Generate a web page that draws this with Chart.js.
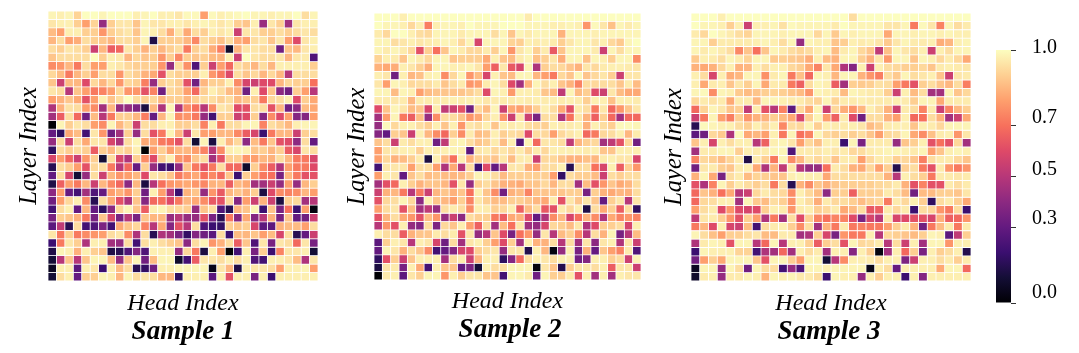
<!DOCTYPE html>
<html lang="en">

<head>
    <meta charset="UTF-8">
    <title>Attention heatmaps</title>
    <script src="https://cdn.jsdelivr.net/npm/chart.js"></script>
    <style>
        body { margin: 0; background: #fff; }
        canvas { position: absolute; }
    </style>
</head>

<body>

    <canvas id="panel1"></canvas>
    <canvas id="panel2"></canvas>
    <canvas id="panel3"></canvas>
    <canvas id="colorbar"></canvas>

    <script>

        const headLabels = ["1","2","3","4","5","6","7","8","9","10","11","12","13","14","15","16","17","18","19","20","21","22","23","24","25","26","27","28","29","30","31","32"];

        const sample1 = [
            [.98,.97,.98,.91,1,1,.98,1,1,1,.97,.98,1,.97,.97,.95,.99,.99,.8,.99,.97,.98,.99,1,.98,.98,.97,.98,.98,1,.93,.98],
            [.95,.97,.97,.9,.8,.91,.42,.9,.95,.95,.88,.98,.95,.95,.97,.97,.95,.97,.98,.97,.95,.97,.9,.88,.97,.43,.95,.9,.45,.95,.97,.97],
            [.86,.8,.97,.97,.9,.9,.78,.9,.93,.95,.88,.98,.97,.93,.83,.95,.82,.93,.9,.97,.95,.97,.55,.95,.95,.9,.9,.93,.9,.93,.95,.93],
            [.85,.93,.8,.83,.93,.9,.88,.85,.93,.93,.9,.98,.13,.9,.9,.9,.85,.75,.93,.9,.87,.93,.83,.8,.93,.95,.88,.95,.8,.6,.95,.97],
            [.93,.9,.95,.93,.9,.55,.85,.65,.68,.95,.9,.84,.9,.85,.9,.93,.72,.9,.93,.83,.73,.08,.85,.95,.95,.93,.93,.33,.88,.85,.95,.97],
            [.88,.93,.93,.93,.93,1,.9,.97,.96,.85,.92,.88,.9,.78,.9,.75,.9,.88,.9,.86,.85,.97,.55,1,.95,.93,.93,.95,.85,.95,.96,.25],
            [.76,.78,.85,.72,.93,.8,.8,.97,.95,.92,.9,.9,.9,.78,.42,.93,.77,.25,.9,.55,.8,.68,.93,.9,.85,.93,.85,.97,.97,.97,.97,.9],
            [.92,.86,.72,.85,.9,.8,.93,.93,.78,.93,.9,.84,.82,.62,.93,.9,.9,.9,.97,.78,.72,.6,.93,.88,.92,.85,.92,.85,.5,.93,.93,.93],
            [.88,.55,.86,.85,.6,.92,.85,.92,.78,.92,.9,.73,.42,.9,.93,.9,.62,.33,.85,.9,.9,.97,.76,.58,.55,.6,.6,.85,.92,.9,.9,.7],
            [.95,.93,.5,.88,.8,.72,.74,.8,.92,.78,.78,.62,.74,.33,.92,.9,.8,.68,.9,.97,.93,.86,.84,.33,.97,.6,.88,.4,.33,.9,.8,.5],
            [.8,.84,.88,.82,.62,.8,.97,.88,.93,1,.93,.9,.92,.85,.9,.9,.85,.9,.93,.93,.9,.93,.85,.88,.9,.72,.92,.93,.97,.6,.9,.82],
            [.48,.84,.94,.93,.8,.76,.45,.85,.42,.42,.36,.12,.85,.48,.98,.48,.76,.7,.5,.76,.95,.93,.6,.62,.93,.93,.62,.85,.33,.4,.86,.82],
            [.45,.65,.93,.68,.33,.86,.5,.72,.9,.9,.85,.73,.3,.85,.98,.76,.78,.72,.42,.22,.9,.9,.55,.6,.9,.38,.76,.6,.8,.38,.38,.8],
            [0,.98,.9,.95,.93,.8,.76,.98,.85,.92,.55,.93,.93,.97,.97,.9,.9,.93,.74,.97,.72,.93,.93,.98,.98,.74,.93,.9,.85,.97,.98,.98],
            [.3,.17,.82,.86,.22,.95,.78,.33,.45,.9,.42,.93,.62,.72,.98,.85,.55,.95,.8,.8,.85,.85,.75,.65,.58,.2,.72,.85,.85,.55,.9,.93],
            [.42,.93,.55,.93,.82,.95,.95,.58,.47,.93,.98,.82,.82,.72,.7,.62,.93,.1,.98,.12,.97,.85,.92,.4,.86,.72,.88,.62,.6,.4,.93,.3],
            [.17,.93,.9,.93,.9,.65,.9,.85,.93,.9,.97,0,.8,.9,.8,.85,.85,.8,.74,.5,.76,.97,.98,.97,.88,.9,.85,.9,.65,.58,.95,.93],
            [.58,.8,.68,.55,.78,.9,.1,.93,.58,.48,.9,.76,.6,.9,.97,.78,.76,.88,.93,.45,.62,.9,.9,.78,.8,.85,.84,.93,.85,.72,.72,.58],
            [.15,.93,.9,.8,.62,.92,.93,.72,.5,.68,.3,.9,.42,.22,.2,.42,.88,.72,.62,.72,.93,.68,.68,.08,.9,.76,.65,.48,.8,.72,.72,.6],
            [.3,.93,.58,.1,.42,.93,.55,.85,.78,.8,.85,.6,.95,.93,.88,.72,.78,.82,.7,.75,.68,.88,.2,.9,.8,.72,.7,.35,.85,.72,.62,.62],
            [.13,.66,.8,.72,.85,.55,.85,.75,.68,.4,.85,.12,.5,.7,.78,.8,.82,.78,.75,.84,.85,.65,.85,.82,.45,.45,.55,.42,.8,.42,.85,.9],
            [.4,.8,.3,.22,.45,.25,.3,.8,.84,.78,.9,.33,.97,.8,.5,.2,.84,.88,.42,.78,.64,.85,.88,.84,.9,.12,.6,.76,.74,.76,.85,.8],
            [.33,.8,.92,.97,.76,.15,.93,.82,.62,.48,.88,.38,.68,.7,.6,.72,.85,.82,.76,.64,.62,.92,.38,.8,.55,.84,.55,.12,.9,.92,.45,.5],
            [.22,.93,.97,.3,.85,.3,.17,.4,.92,.98,.88,.65,.97,.98,.93,.92,.9,.42,.88,.93,.25,.15,.85,.88,.98,.2,.88,.35,.7,.2,.8,.02],
            [.35,.9,.88,.84,.72,.35,.88,.58,.35,.5,.35,.88,.85,.85,.42,.5,.42,.42,.62,.35,.15,.72,.38,.82,.38,.5,.84,.35,.88,.3,.33,.55],
            [.28,.52,.15,.93,.22,.25,.36,.22,.82,.88,.92,.74,.5,.82,.38,.62,.5,.93,.25,.2,.18,.9,.88,.9,.58,.28,.28,.84,.86,.86,.8,.93],
            [.95,.72,.9,.72,.76,.78,.8,.93,.95,.76,.48,.93,.15,.48,.45,.35,.18,.38,.33,.28,.93,.2,.86,.85,.88,.8,.86,.58,.93,.15,.3,.55],
            [.2,.72,.95,.9,.48,.97,.97,.45,.42,.93,.22,.93,.97,.93,.9,.88,.4,.93,.98,.78,.84,.93,.65,.88,.25,.95,.35,.95,.93,.68,.95,.35],
            [.13,.98,.97,.84,.97,.9,.88,.13,.15,.25,.38,.25,.97,.97,.97,.42,.92,.72,.12,.97,.8,0,.22,.97,.35,.9,.2,.74,.95,.95,.97,.1],
            [.1,.5,.88,.5,.88,.98,.98,.86,.42,.88,.98,.33,.86,.98,.98,.08,.22,.65,.95,.95,.93,.97,.93,.97,.25,.22,.97,.97,.95,.86,.48,.95],
            [.06,.97,.97,.28,.97,.95,.2,.97,.86,.93,.15,.18,.33,.97,.97,.98,.98,.98,.98,.04,.95,.85,.13,.97,.95,.95,.93,.8,.97,.97,.98,.8],
            [.1,.93,.97,.3,.9,.9,.98,.97,.85,.98,.93,.95,.93,.85,.85,.17,.97,.97,.97,.28,.97,.62,.97,.97,.35,.97,.2,.97,.97,.97,.97,.97]
        ];

        const sample2 = [
            [1,1,1,.97,1,1,1,1,1,1,1,1,1,1,1,1,1,1,.96,1,1,1,1,1,1,1,1,1,1,1,1,1],
            [1,.98,.98,.97,.92,.97,.73,.97,.98,.98,.97,1,.98,.98,.98,1,1,1,.98,.98,.98,.97,.97,.98,.97,.78,.99,.95,.87,.98,.96,.98],
            [.96,.92,1,1,.97,.93,.92,.98,.98,.98,.96,.98,.98,.98,.93,.98,.88,.98,.96,.98,.98,.98,.84,.98,.98,.98,.97,.98,.98,.98,.98,.98],
            [.98,.98,.93,.95,.97,.95,.96,.97,.98,.97,.92,.98,.58,.98,.98,.98,.91,.9,.97,.96,.97,.96,.9,.95,.98,.98,.95,.97,.92,.89,.98,1],
            [.98,.96,.98,.96,.92,.62,.9,.7,.88,.98,.96,.92,.92,.96,.9,.98,.78,.95,.98,.9,.96,.64,.88,.98,.98,.98,.96,.55,.98,.93,.98,.98],
            [.91,.97,.96,.88,.98,.96,.92,.98,.98,.88,.9,.9,.9,.82,.97,.88,.86,.96,.98,.87,.9,.95,.83,.98,.98,.87,.98,.97,.9,.98,.98,.76],
            [.84,.82,.83,.97,.95,.9,.83,.98,.98,.97,.97,.98,.95,.8,.66,.95,.64,.58,.98,.48,.9,.93,.92,.88,.84,.95,.92,.96,.97,.97,.96,.95],
            [.97,.95,.33,.97,.85,.87,.97,.98,.76,.92,.98,.78,.86,.58,.97,.88,.86,.98,.98,.85,.8,.72,.92,.88,.98,.88,.92,.95,.9,.55,.95,.95],
            [.95,.8,.98,.97,.92,.93,.93,.96,.88,.93,.96,.78,.8,.96,.98,.93,.6,.45,.84,.98,.93,.97,.88,.84,.74,.93,.92,.93,.93,.88,.96,.86],
            [.98,.98,.86,.98,.97,.8,.86,.88,.88,.88,.88,.9,.93,.6,.98,.97,.79,.97,.97,.96,.88,.86,.52,.98,.86,.9,.6,.55,.95,.86,.82,.82],
            [.96,.96,.95,.96,.85,.96,.96,.96,.96,.97,.96,.97,.97,.95,.96,.96,.96,.97,.96,.97,.96,.97,.96,.97,.96,.9,.97,.97,.87,.97,.97,.96],
            [.6,.88,.98,.95,.86,.88,.58,.96,.52,.55,.62,.33,.92,.86,.98,.55,.82,.8,.84,.9,.97,.93,.82,.62,.96,.93,.72,.95,.68,.78,.88,.95],
            [.45,.8,.98,.72,.65,.86,.42,.76,.93,.93,.88,.78,.82,.92,.97,.78,.55,.95,.55,.35,.93,.93,.48,.7,.95,.84,.66,.9,.68,.45,.68,.68],
            [.42,.99,.92,.97,.97,.93,.9,.97,.88,.97,.78,.95,.93,.97,.88,.97,.96,.97,.93,.92,.9,.97,.96,.96,.97,.84,.97,.93,.9,.99,.99,.98],
            [.38,.3,.9,.88,.55,.97,.85,.76,.68,.9,.76,.96,.86,.88,.97,.9,.93,.92,.6,.93,.92,.8,.92,.95,.97,.68,.72,.92,.93,.97,.85,.96],
            [.88,.93,.55,.96,.93,.97,.97,.33,.52,.97,.98,.93,.88,.9,.96,.86,.97,.25,.98,.68,.95,.95,.93,.52,.85,.9,.92,.45,.52,.62,.92,.33],
            [.8,.95,.95,.97,.97,.9,.97,.96,.97,.98,.97,.28,.95,.96,.92,.95,.92,.96,.9,.96,.92,.97,.97,.97,.97,.96,.97,.88,.88,.97,.97,.97],
            [.8,.92,.84,.86,.9,.96,.12,.97,.85,.7,.97,.84,.9,.9,.88,.95,.86,.96,.96,.55,.92,.92,.88,.84,.84,.87,.85,.96,.97,.95,.95,.58],
            [.22,.95,.95,.95,.8,.93,.93,.8,.48,.82,.5,.93,.2,.6,.3,.5,.95,.95,.84,.8,.93,.93,.97,.15,.93,.93,.7,.58,.97,.65,.9,.78],
            [.8,.97,.95,.3,.88,.93,.86,.88,.86,.85,.86,.9,.98,.97,.93,.86,.9,.9,.9,.9,.9,.8,.18,.93,.9,.9,.86,.55,.93,.9,.93,.93],
            [.45,.62,.68,.97,.9,.84,.88,.88,.85,.62,.95,.42,.9,.93,.88,.84,.84,.82,.88,.88,.92,.85,.93,.93,.45,.86,.62,.78,.88,.82,.85,.93],
            [.55,.84,.85,.72,.5,.72,.55,.85,.88,.84,.88,.7,.97,.88,.76,.33,.84,.86,.74,.88,.88,.88,.88,.9,.9,.35,.9,.84,.82,.85,.84,.93],
            [.62,.92,.93,.98,.92,.4,.97,.88,.85,.8,.9,.74,.95,.9,.86,.86,.9,.9,.88,.85,.82,.96,.62,.95,.88,.95,.88,.3,.9,.95,.5,.95],
            [.8,.93,.95,.62,.86,.45,.52,.42,.93,.96,.93,.76,.97,.96,.9,.92,.97,.66,.86,.93,.64,.62,.96,.92,.97,.13,.93,.82,.9,.65,.93,.17],
            [.62,.85,.93,.82,.78,.62,.86,.78,.42,.55,.4,.93,.9,.9,.72,.65,.82,.84,.6,.3,.48,.76,.85,.58,.7,.84,.76,.48,.82,.74,.78,.74],
            [.5,.78,.62,.97,.42,.38,.93,.36,.92,.88,.97,.8,.66,.93,.45,.86,.7,.95,.45,.42,.58,.92,.9,.86,.95,.48,.6,.9,.9,.93,.58,.97],
            [.97,.93,.93,.65,.84,.88,.88,.96,.93,.96,.62,.95,.42,.5,.88,.6,.35,.7,.78,.42,.95,.5,.86,.9,.76,.5,.93,.84,.98,.35,.5,.86],
            [.28,.9,.97,.95,.5,.97,.95,.58,.33,.93,.45,.95,.97,.9,.8,.6,.9,.45,.97,.84,.84,.93,.5,.93,.45,.95,.4,.95,.97,.48,.95,.55],
            [.3,.98,.95,.84,.93,.88,.76,.22,.3,.38,.58,.6,.9,.93,.95,.42,.95,.95,.14,.97,.85,.02,.42,.97,.35,.84,.3,.88,.8,.74,.96,.25],
            [.17,.62,.9,.55,.88,.97,.97,.97,.45,.93,.96,.55,.85,.97,.97,.17,.38,.68,.93,.97,.95,.93,.97,.97,.33,.38,.97,.97,.9,.93,.55,.98],
            [.12,.95,.96,.35,.97,.82,.22,.97,.88,.88,.3,.36,.1,.97,.93,.93,.98,.98,.98,.02,.95,.88,.14,.9,.95,.95,.93,.97,.65,.95,.95,.55],
            [0,.96,.97,.28,.95,.9,.98,.98,.78,.97,.9,.95,.95,.88,.88,.22,.98,.98,.96,.33,.98,.9,.9,.96,.62,.97,.45,.97,.45,.97,.95,.95]
        ];

        const sample3 = [
            [1,1,1,.97,1,1,1,1,1,1,1,1,1,1,1,1,1,1,.93,1,1,1,1,1,1,1,1,1,1,1,1,1],
            [1,.98,.98,.97,.9,.97,.55,.97,.97,.98,.94,.99,.98,.98,.98,.98,.96,1,.98,.98,.98,.98,.95,.95,.98,.72,.99,.95,.74,.98,.93,.96],
            [.96,.92,1,.98,.96,.93,.91,.98,.98,.98,.97,.98,.98,.98,.92,.98,.89,.98,.97,.98,.98,.98,.82,.98,.98,.97,.98,.98,.97,.98,.97,.97],
            [.98,.98,.9,.96,.96,.96,.96,.97,.98,.97,.93,.98,.42,.98,.97,.97,.88,.9,.97,.96,.97,.95,.89,.95,.98,.96,.96,.97,.83,.85,.97,.98],
            [.98,.96,.98,.96,.93,.75,.88,.7,.88,.98,.96,.93,.91,.93,.97,.98,.86,.96,.98,.92,.88,.52,.87,.98,.95,.93,.97,.55,.97,.93,.98,.98],
            [.89,.97,.96,.93,.98,.96,.91,.98,.98,.89,.9,.89,.88,.83,.97,.86,.84,.98,.98,.9,.84,.95,.79,.98,.98,.88,.98,.97,.92,.96,.92,.82],
            [.84,.82,.84,.92,.97,.84,.85,.97,.93,.97,.97,.92,.9,.82,.74,.95,.82,.48,.38,.97,.55,.97,.93,.92,.9,.9,.92,.88,.96,.97,.96,.95],
            [.97,.93,.58,.97,.83,.85,.98,.98,.77,.96,.98,.72,.87,.68,.98,.97,.85,.98,.98,.84,.78,.73,.93,.89,.98,.93,.95,.97,.88,.55,.95,.96],
            [.97,.82,.96,.97,.88,.95,.9,.98,.82,.96,.96,.72,.66,.93,.98,.97,.65,.45,.9,.89,.9,.94,.93,.8,.72,.62,.9,.93,.88,.85,.93,.73],
            [.98,.99,.76,.98,.97,.89,.86,.88,.9,.91,.9,.88,.86,.78,.98,.97,.96,.86,.98,.97,.96,.96,.9,.55,.97,.86,.93,.45,.45,.98,.88,.92],
            [.92,.96,.94,.96,.82,.96,.96,.85,.98,.98,.97,.96,.96,.93,.91,.98,.91,.96,.96,.97,.96,.96,.96,.97,.96,.9,.98,.98,.82,.96,.96,.96],
            [.68,.91,.98,.95,.88,.9,.52,.96,.62,.5,.74,.28,.92,.82,.98,.55,.92,.83,.78,.85,.97,.93,.84,.55,.96,.93,.74,.96,.55,.74,.85,.9],
            [.55,.72,.98,.8,.73,.9,.78,.84,.84,.9,.86,.82,.58,.9,.98,.8,.66,.96,.6,.33,.93,.93,.84,.8,.97,.68,.7,.93,.84,.45,.55,.82],
            [.15,.99,.98,.97,.97,.93,.9,.97,.92,.97,.75,.93,.92,.98,.9,.97,.96,.96,.97,.95,.86,.89,.96,.97,.97,.88,.97,.96,.92,.98,.98,.98],
            [.28,.33,.92,.89,.48,.99,.82,.85,.8,.97,.72,.98,.7,.74,.98,.92,.9,.93,.9,.93,.88,.8,.92,.93,.98,.82,.76,.87,.96,.97,.78,.95],
            [.88,.97,.58,.97,.93,.97,.97,.5,.66,.97,.98,.95,.8,.92,.87,.97,.97,.2,.98,.35,.96,.96,.96,.42,.88,.9,.97,.62,.7,.62,.92,.45],
            [.45,.96,.96,.98,.98,.9,.97,.96,.96,.98,.98,.25,.96,.96,.95,.97,.95,.96,.92,.93,.96,.97,.98,.98,.97,.96,.98,.8,.88,.97,.98,.97],
            [.74,.92,.9,.86,.91,.96,.13,.96,.9,.72,.98,.76,.85,.95,.92,.95,.88,.96,.96,.8,.92,.96,.96,.9,.92,.88,.73,.93,.96,.96,.92,.88],
            [.33,.95,.96,.9,.88,.96,.97,.82,.48,.84,.52,.95,.5,.42,.42,.7,.96,.93,.84,.82,.92,.8,.9,.14,.9,.93,.72,.62,.96,.78,.72,.78],
            [.84,.98,.82,.35,.93,.96,.86,.91,.9,.88,.88,.97,.98,.97,.97,.82,.93,.93,.93,.93,.93,.93,.84,.5,.97,.93,.9,.72,.96,.96,.95,.96],
            [.62,.48,.74,.98,.9,.96,.93,.9,.93,.72,.93,.15,.84,.76,.88,.84,.88,.9,.9,.9,.9,.92,.93,.96,.84,.62,.74,.62,.62,.96,.93,.96],
            [.68,.88,.84,.7,.82,.5,.55,.92,.96,.93,.92,.76,.97,.92,.86,.4,.9,.9,.66,.9,.9,.9,.96,.93,.86,.33,.86,.86,.9,.9,.88,.95],
            [.68,.92,.93,.97,.97,.45,.98,.89,.86,.93,.9,.78,.97,.93,.83,.96,.92,.93,.9,.86,.9,.92,.72,.96,.92,.97,.9,.17,.93,.96,.9,.82],
            [.8,.93,.96,.6,.78,.6,.58,.6,.9,.97,.96,.78,.96,.97,.9,.92,.96,.82,.86,.93,.64,.66,.96,.92,.96,.2,.93,.92,.78,.72,.93,.2],
            [.52,.95,.96,.9,.78,.62,.9,.8,.48,.72,.45,.93,.6,.9,.74,.7,.74,.74,.6,.35,.58,.5,.96,.58,.6,.62,.62,.58,.84,.66,.68,.78],
            [.72,.85,.6,.97,.58,.55,.86,.22,.93,.96,.97,.9,.76,.93,.45,.84,.72,.96,.72,.74,.72,.72,.8,.9,.96,.84,.33,.72,.86,.96,.72,.96],
            [.98,.93,.87,.8,.9,.9,.93,.95,.86,.86,.96,.96,.45,.48,.9,.58,.35,.78,.72,.72,.97,.5,.92,.9,.88,.86,.9,.98,.97,.28,.52,.9],
            [.48,.96,.98,.97,.62,.98,.98,.5,.68,.98,.5,.97,.97,.9,.65,.9,.93,.62,.98,.92,.93,.96,.5,.93,.55,.97,.45,.98,.98,.78,.97,.97],
            [.2,.98,.97,.97,.97,.91,.91,.22,.48,.45,.68,.45,.97,.93,.96,.45,.97,.97,.38,.97,.9,.02,.45,.97,.68,.9,.35,.97,.9,.93,.97,.14],
            [.33,.8,.9,.82,.98,.98,.98,.88,.62,.98,.98,.9,.8,.98,.98,.1,.5,.76,.97,.97,.96,.93,.97,.97,.36,.55,.97,.97,.93,.96,.9,.96],
            [.06,.98,.98,.42,.98,.93,.33,.98,.93,.93,.22,.42,.25,.98,.98,.97,.98,.98,.98,.98,.04,.97,.93,.3,.97,.97,.97,.97,.82,.98,.98,.68],
            [.08,.96,.97,.42,.96,.96,.98,.97,.84,.98,.97,.98,.96,.96,.93,.2,.98,.97,.97,.42,.97,.9,.97,.97,.2,.97,.38,.97,.97,.97,.97,.97]
        ];

        const barTicks = [1, 0.7, 0.5, 0.3, 0];
        const barTickLabels = ["1.0", "0.7", "0.5", "0.3", "0.0"];
        const barLabelShift = [-2, -8, -7, -8, -10];

        // magma colormap, 11 stops from 0 to 1
        const magma = [[0,0,4],[20,14,54],[59,15,112],[100,26,128],[140,41,129],[183,55,121],[222,73,104],[247,112,92],[254,159,109],[254,207,146],[252,253,191]];

        function colorFor(v) {
            const p = Math.min(v * 10, 9.999);
            const i = Math.floor(p);
            const t = p - i;
            const c = magma[i].map((a, k) => Math.round(a + (magma[i + 1][k] - a) * t));
            return `rgb(${c[0]},${c[1]},${c[2]})`;
        }

        function heatmap(id, values, title, box) {
            const canvas = document.getElementById(id);
            canvas.width = box.w;
            canvas.height = 353;
            canvas.style.left = box.x + "px";
            canvas.style.top = "0px";

            // one dataset per layer, each cell is a floating bar
            const datasets = values.map((row, r) => ({
                data: row.map((v, c) => ({ x: headLabels[c], y: [r, r + 1], v: v })),
                backgroundColor: ctx => colorFor(ctx.raw.v),
                borderColor: "#fff",
                borderWidth: 0.4,
                borderSkipped: false,
                inflateAmount: 0,
                barPercentage: 1,
                categoryPercentage: 1,
                grouped: false
            }));

            return new Chart(canvas, {
                type: "bar",
                data: { labels: headLabels, datasets: datasets },
                options: {
                    responsive: false,
                    animation: false,
                    layout: { padding: { top: box.top, right: 0, left: 0, bottom: 0 } },
                    plugins: {
                        legend: { display: false },
                        tooltip: { enabled: false },
                        title: {
                            display: true,
                            text: title,
                            position: "bottom",
                            color: "#000",
                            font: { family: "Liberation Serif", size: 27, style: "italic", weight: "bold", lineHeight: 1 },
                            padding: { top: 0, bottom: box.titleBottom }
                        }
                    },
                    scales: {
                        x: {
                            grid: { display: false },
                            border: { display: false },
                            ticks: { display: false },
                            afterFit: s => { s.height = box.xh; },
                            title: {
                                display: true,
                                text: "Head Index",
                                color: "#000",
                                font: { family: "Liberation Serif", size: 24, style: "italic", lineHeight: 1.2 },
                                padding: { top: box.xTitleTop, bottom: 0 }
                            }
                        },
                        y: {
                            reverse: true,
                            min: 0,
                            max: 32,
                            grid: { display: false },
                            border: { display: false },
                            ticks: { display: false },
                            afterFit: s => { s.width = box.yw; },
                            title: {
                                display: true,
                                text: "Layer Index",
                                color: "#000",
                                font: { family: "Liberation Serif", size: 24.5, style: "italic", lineHeight: 1.2 },
                                padding: 0
                            }
                        },
                        // empty axis on the right so the sample title stays centred under the cells
                        spacer: {
                            axis: "y",
                            position: "right",
                            grid: { display: false },
                            border: { display: false },
                            ticks: { display: false },
                            afterFit: s => { s.width = box.spacer; }
                        }
                    }
                }
            });
        }

        heatmap("panel1", sample1, "Sample 1", { x: 15, w: 336, top: 11, spacer: 33, yw: 33, xh: 37.5, xTitleTop: 4, titleBottom: 7.5 });
        heatmap("panel2", sample2, "Sample 2", { x: 343, w: 334, top: 13, spacer: 36, yw: 31, xh: 36.5, xTitleTop: 1, titleBottom: 9.5 });
        heatmap("panel3", sample3, "Sample 3", { x: 660, w: 338, top: 13, spacer: 27, yw: 31, xh: 37.5, xTitleTop: 3, titleBottom: 7.5 });

        const barCanvas = document.getElementById("colorbar");
        barCanvas.width = 99;
        barCanvas.height = 353;
        barCanvas.style.left = "980px";
        barCanvas.style.top = "0px";

        const drawBarLabels = {
            id: "drawBarLabels",
            afterDraw(chart) {
                const ctx = chart.ctx;
                const y = chart.scales.y;
                ctx.save();
                ctx.font = "20px 'Liberation Serif'";
                ctx.fillStyle = "#000";
                ctx.textBaseline = "middle";
                barTicks.forEach((t, i) => {
                    ctx.fillText(barTickLabels[i], 52, y.getPixelForValue(t) + barLabelShift[i]);
                });
                ctx.restore();
            }
        };

        new Chart(barCanvas, {
            type: "bar",
            data: {
                labels: ["score"],
                datasets: [{
                    data: [[0, 1]],
                    backgroundColor: ctx => {
                        const area = ctx.chart.chartArea;
                        if (!area) return "#000";
                        const g = ctx.chart.ctx.createLinearGradient(0, area.bottom, 0, area.top);
                        magma.forEach((c, i) => g.addColorStop(i / 10, `rgb(${c[0]},${c[1]},${c[2]})`));
                        return g;
                    },
                    inflateAmount: 0,
                    barPercentage: 1,
                    categoryPercentage: 1
                }]
            },
            options: {
                responsive: false,
                animation: false,
                layout: { padding: { top: 50, bottom: 50, left: 16, right: 0 } },
                plugins: { legend: { display: false }, tooltip: { enabled: false } },
                scales: {
                    x: { display: false },
                    y: {
                        position: "right",
                        min: 0,
                        max: 1,
                        border: { display: false },
                        grid: { drawOnChartArea: false, drawTicks: true, tickLength: 5, color: "#333", lineWidth: 1 },
                        ticks: { display: false },
                        afterBuildTicks: s => { s.ticks = barTicks.map(v => ({ value: v })); },
                        afterFit: s => { s.width = 68; }
                    }
                }
            },
            plugins: [drawBarLabels]
        });

    </script>
</body>

</html>
